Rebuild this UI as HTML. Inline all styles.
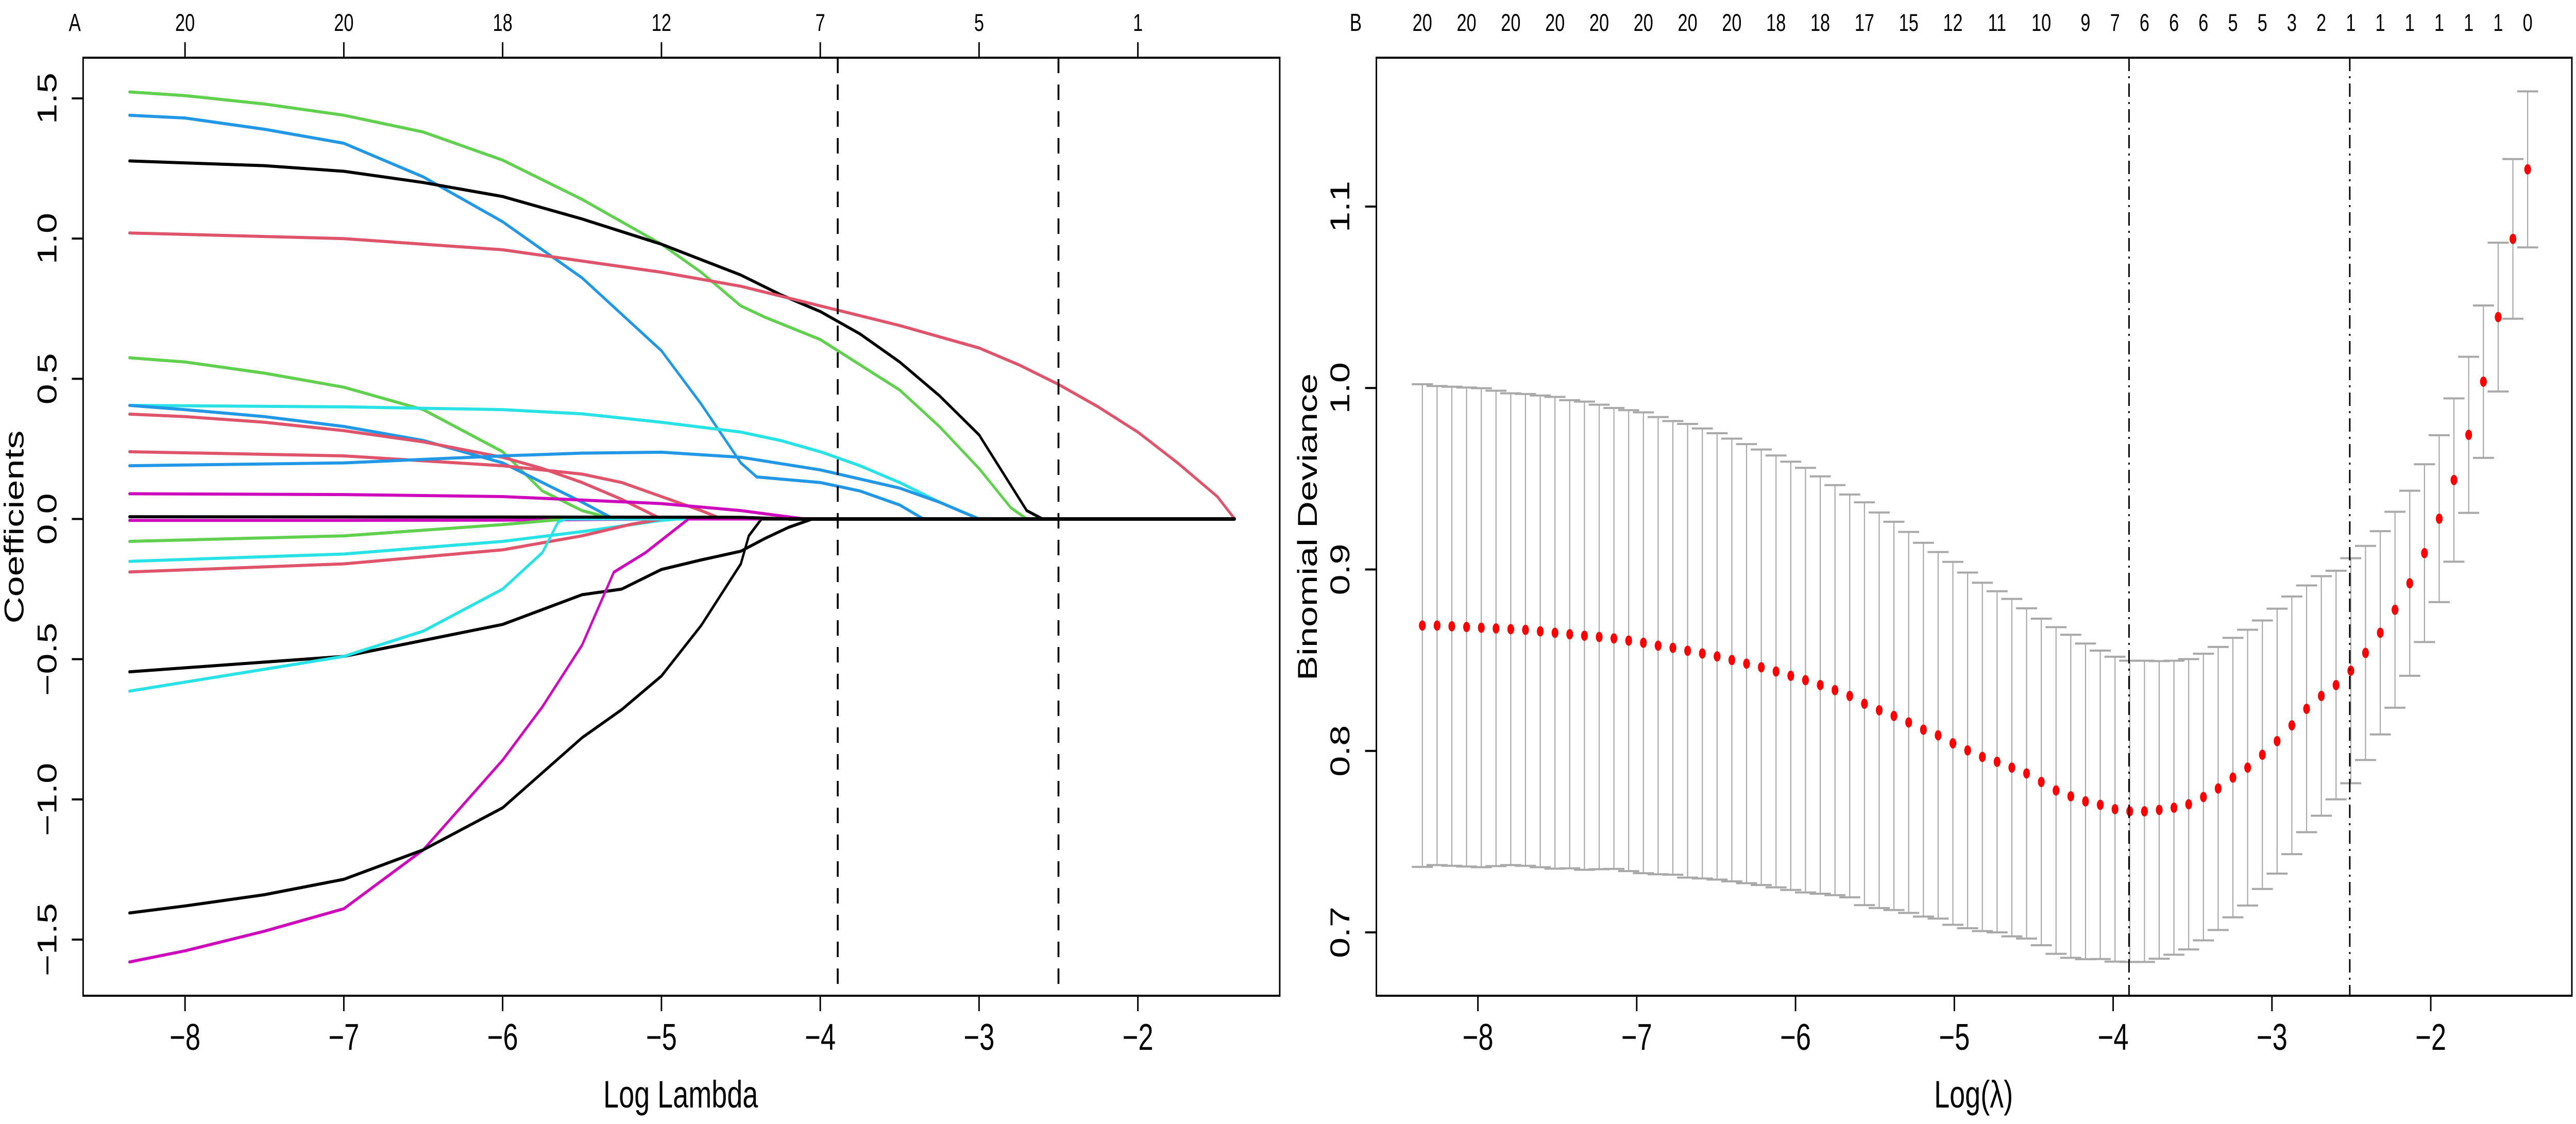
<!DOCTYPE html>
<html><head><meta charset="utf-8"><title>LASSO coefficient paths and CV deviance</title>
<style>html,body{margin:0;padding:0;background:#fff;overflow:hidden;width:100%;height:100%}svg{display:block;width:100vw;height:100vh}text{font-family:"Liberation Sans",sans-serif}</style>
</head><body>
<svg id="fig" xmlns="http://www.w3.org/2000/svg" viewBox="0 0 6850 2182" preserveAspectRatio="none">
<rect x="0" y="0" width="6850" height="2182" fill="#fff"/>
<g id="pA"></g>
<g id="pB"></g>
<text x="199" y="60" font-size="48" text-anchor="middle">A</text>
<text x="3605" y="60" font-size="48" text-anchor="middle">B</text>
<text x="1810" y="2150" font-size="74" text-anchor="middle">Log Lambda</text>
<text x="0" y="0" font-size="72" text-anchor="middle" transform="translate(62,1023) rotate(-90)">Coefficients</text>
<text x="5248" y="2150" font-size="74" text-anchor="middle">Log(λ)</text>
<text x="0" y="0" font-size="72" text-anchor="middle" transform="translate(3502,1023) rotate(-90)">Binomial Deviance</text>
</svg>
<script>
// ---------- Panel A data ----------
const aXTicks = [-8,-7,-6,-5,-4,-3,-2];
const aTopLabels = ["20","20","18","12","7","5","1"];
const aYTicks = [-1.5,-1.0,-0.5,0.0,0.5,1.0,1.5];
const aYTickLabels = ["-1.5","-1.0","-0.5","0.0","0.5","1.0","1.5"];
const aVlines = [-3.89,-2.50];
const lamStart = -8.35, lamEnd = -1.39;
const s1L=[-8.35,-8,-7.5,-7,-6.5,-6,-5.5,-5,-4.75,-4.5,-4.35,-4,-3.5,-3.25,-3,-2.8,-2.7];
const s1V=[1.523,1.51,1.48,1.44,1.38,1.28,1.14,0.98,0.88,0.76,0.72,0.64,0.46,0.33,0.18,0.04,0];
const s2L=[-8.35,-8,-7.5,-7,-6.5,-6,-5.5,-5.25,-5,-4.75,-4.5,-4.4,-4,-3.75,-3.5,-3.35];
const s2V=[1.44,1.43,1.39,1.34,1.22,1.06,0.86,0.73,0.6,0.41,0.2,0.15,0.13,0.10,0.05,0];
const s3L=[-8.35,-8,-7.5,-7,-6.5,-6,-5.5,-5,-4.5,-4.25,-4,-3.75,-3.5,-3.25,-3,-2.8,-2.7,-2.6];
const s3V=[1.277,1.27,1.26,1.24,1.20,1.15,1.07,0.98,0.87,0.80,0.74,0.66,0.56,0.44,0.30,0.12,0.03,0];
const s4L=[-8.35,-8,-7,-6,-5.5,-5,-4.5,-4,-3.5,-3,-2.75,-2.5,-2.25,-2,-1.75,-1.5,-1.39];
const s4V=[1.02,1.015,1.0,0.96,0.92,0.88,0.83,0.76,0.69,0.61,0.55,0.48,0.40,0.31,0.20,0.08,0];
const s5L=[-8.35,-8,-7.5,-7,-6.5,-6,-5.75,-5.5,-5.3];
const s5V=[0.575,0.56,0.52,0.47,0.39,0.24,0.10,0.03,0];
const s6L=[-8.35,-7,-6,-5.5,-5,-4.5,-4.25,-4,-3.75,-3.5,-3.25,-3];
const s6V=[0.405,0.40,0.39,0.375,0.345,0.31,0.28,0.24,0.19,0.13,0.06,0];
const s7L=[-8.35,-8,-7.5,-7,-6.5,-6,-5.75,-5.5,-5.3];
const s7V=[0.405,0.39,0.365,0.33,0.28,0.20,0.13,0.06,0];
const s8L=[-8.35,-8,-7.5,-7,-6.5,-6,-5.75,-5.5,-5.25,-5];
const s8V=[0.374,0.365,0.345,0.315,0.275,0.22,0.18,0.13,0.07,0];
const s9L=[-8.35,-7,-6,-5.5,-5.25,-5,-4.75,-4.62];
const s9V=[0.24,0.225,0.19,0.16,0.13,0.08,0.03,0];
const s10L=[-8.35,-7,-6,-5.5,-5,-4.5,-4,-3.5,-3.25,-3];
const s10V=[0.19,0.20,0.225,0.235,0.238,0.22,0.175,0.11,0.06,0];
const s11L=[-8.35,-7,-6,-5,-4.5,-4.1];
const s11V=[0.09,0.087,0.08,0.055,0.03,0];
const s12L=[-8.35,-7,-6,-5.5,-5];
const s12V=[-0.005,-0.005,-0.004,-0.002,0];
const s13L=[-8.35,-7,-6.5,-6,-5.6];
const s13V=[-0.08,-0.06,-0.04,-0.02,0];
const s14L=[-8.35,-7,-6,-5.5,-5,-4.9];
const s14V=[-0.151,-0.125,-0.08,-0.045,-0.005,0];
const s15L=[-8.35,-7,-6,-5.5,-5.2,-5];
const s15V=[-0.189,-0.16,-0.11,-0.06,-0.02,0];
const s16L=[-8.35,-7,-6,-5.5,-5.25,-5,-4.75,-4.5,-4.35,-4.2,-4.05];
const s16V=[-0.545,-0.49,-0.376,-0.27,-0.25,-0.18,-0.146,-0.115,-0.07,-0.03,0];
const s17L=[-8.35,-7,-6.5,-6,-5.75,-5.65,-5.6];
const s17V=[-0.614,-0.49,-0.40,-0.25,-0.12,-0.01,0];
const s18L=[-8.35,-8,-7.5,-7,-6.5,-6,-5.75,-5.5,-5.3,-5.1,-4.83];
const s18V=[-1.58,-1.54,-1.47,-1.39,-1.18,-0.86,-0.67,-0.45,-0.19,-0.12,0];
const s19L=[-8.35,-8,-7.5,-7,-6.5,-6,-5.5,-5.25,-5,-4.75,-4.5,-4.45,-4.37];
const s19V=[-1.405,-1.38,-1.34,-1.285,-1.18,-1.03,-0.78,-0.68,-0.56,-0.38,-0.16,-0.06,0];
const s20L=[-8.35,-4.5,-4.2];
const s20V=[0.008,0.006,0];
const seriesL=[s1L,s2L,s3L,s4L,s5L,s6L,s7L,s8L,s9L,s10L,s11L,s12L,s13L,s14L,s15L,s16L,s17L,s18L,s19L,s20L];
const seriesV=[s1V,s2V,s3V,s4V,s5V,s6V,s7V,s8V,s9V,s10V,s11V,s12V,s13V,s14V,s15V,s16V,s17V,s18V,s19V,s20V];
const seriesC=["#61D04F","#2297E6","#000000","#DF536B","#61D04F","#28E2E5","#2297E6","#DF536B","#DF536B","#2297E6","#CD0BBC","#CD0BBC","#61D04F","#28E2E5","#DF536B","#000000","#28E2E5","#CD0BBC","#000000","#000000"];

// ---------- Panel B data ----------
const bXTicks = [-8,-7,-6,-5,-4,-3,-2];
const bYTicks = [0.7,0.8,0.9,1.0,1.1];
const bYTickLabels = ["0.7","0.8","0.9","1.0","1.1"];
const bVlines = [-3.90,-2.51];
const bMean = [0.8691,0.8691,0.8687,0.8683,0.8679,0.8675,0.8671,0.8667,0.8659,0.8651,0.8643,0.8635,0.8628,0.8620,0.8608,0.8596,0.8580,0.8568,0.8552,0.8537,0.8521,0.8501,0.8481,0.8461,0.8438,0.8414,0.8390,0.8363,0.8335,0.8303,0.8260,0.8224,0.8193,0.8157,0.8117,0.8086,0.8042,0.8003,0.7967,0.7940,0.7908,0.7876,0.7829,0.7782,0.7750,0.7722,0.7703,0.7679,0.7667,0.7667,0.7675,0.7687,0.7706,0.7746,0.7793,0.7853,0.7908,0.7979,0.8054,0.8141,0.8232,0.8303,0.8363,0.8442,0.8540,0.8651,0.8778,0.8924,0.9090,0.9280,0.9493,0.9742,1.0035,1.0391,1.0822,1.1205];
const bSE = [0.133,0.132,0.132,0.132,0.132,0.131,0.130,0.130,0.130,0.130,0.129,0.129,0.128,0.127,0.127,0.127,0.126,0.125,0.125,0.124,0.123,0.122,0.121,0.120,0.119,0.118,0.117,0.115,0.113,0.111,0.111,0.109,0.107,0.105,0.103,0.101,0.100,0.098,0.096,0.094,0.093,0.091,0.090,0.090,0.089,0.087,0.085,0.084,0.083,0.083,0.082,0.081,0.080,0.079,0.078,0.077,0.076,0.074,0.073,0.071,0.068,0.066,0.063,0.062,0.059,0.056,0.054,0.051,0.049,0.046,0.045,0.043,0.042,0.041,0.044,0.043];
const bTopIdx = [0,3,6,9,12,15,18,21,24,27,30,33,36,39,42,45,47,49,51,53,55,57,59,61,63,65,67,69,71,73,75];
const bTopLabels = ["20","20","20","20","20","20","20","20","18","18","17","15","12","11","10","9","7","6","6","6","5","5","3","2","1","1","1","1","1","1","0"];

const NS="http://www.w3.org/2000/svg";
function mk(parent, tag, attrs, txt){const e=document.createElementNS(NS,tag);for(const k in attrs)e.setAttribute(k,attrs[k]);if(txt!==undefined)e.textContent=txt;parent.appendChild(e);return e;}

const plotTop=112, plotBot=1933;
// ---- Panel A ----
const gA=document.getElementById('pA');
const axL=221, axR=3403;
const xA=l=>492+(l+8)*422.3;
const yA=v=>1007.5-v*544.33;
seriesL.forEach((L,i)=>{
  const V=seriesV[i];
  let d=L.map((l,j)=>(j?'L':'M')+xA(l).toFixed(1)+','+yA(V[j]).toFixed(1)).join(' ');
  const last=L[L.length-1];
  if(last<lamEnd) d+=' L'+xA(lamEnd).toFixed(1)+','+yA(0).toFixed(1);
  const p=mk(gA,'path',{d:d,fill:'none',stroke:seriesC[i],'stroke-width':6,'stroke-linejoin':'round','stroke-linecap':'round'});
  
  
});
const zl=mk(gA,'line',{x1:xA(-4.2),x2:xA(lamEnd),y1:yA(0),y2:yA(0),stroke:'#000','stroke-width':7});


aVlines.forEach((l,i)=>{
  const v=mk(gA,'line',{x1:xA(l),x2:xA(l),y1:plotTop,y2:plotBot,stroke:'#000','stroke-width':5,'stroke-dasharray':'30,22'});
  
  
});
const boxA=mk(gA,'rect',{x:axL,y:plotTop,width:axR-axL,height:plotBot-plotTop,fill:'none',stroke:'#000','stroke-width':4});


aXTicks.forEach((t,i)=>{
  const x=xA(t);
  const tk=mk(gA,'line',{x1:x,x2:x,y1:plotBot,y2:plotBot+30,stroke:'#000','stroke-width':4});
  
  
  const lb=mk(gA,'text',{x:x,y:2038,'font-size':72,'text-anchor':'middle'},String(t).replace('-','\u2212'));
  
  
  const tt=mk(gA,'line',{x1:x,x2:x,y1:plotTop,y2:plotTop-30,stroke:'#000','stroke-width':4});
  
  
  const tl=mk(gA,'text',{x:x,y:60,'font-size':47,'text-anchor':'middle'},aTopLabels[i]);
  
  
});
aYTicks.forEach((t,i)=>{
  const y=yA(t);
  const tk=mk(gA,'line',{x1:axL,x2:axL-30,y1:y,y2:y,stroke:'#000','stroke-width':4});
  
  
  const lb=mk(gA,'text',{x:0,y:0,'font-size':72,'text-anchor':'middle',transform:'translate(150,'+y+') rotate(-90)'},aYTickLabels[i].replace('-','\u2212'));
  
  
});
// ---- Panel B ----
const gB=document.getElementById('pB');
const bxL=3660, bxR=6839;
const xB=l=>3930+(l+8)*422.3;
const yB=v=>1810-(v-0.7)*3522.5;
const nPts=bMean.length, step=(lamEnd-lamStart)/(nPts-1);
bMean.forEach((m,i)=>{
  const x=xB(lamStart+i*step), up=yB(m+bSE[i]), lo=yB(m-bSE[i]);
  const g=mk(gB,'g',{});
  
  
  mk(g,'line',{x1:x,x2:x,y1:up,y2:lo,stroke:'#A9A9A9','stroke-width':3});
  mk(g,'line',{x1:x-28,x2:x+28,y1:up,y2:up,stroke:'#A9A9A9','stroke-width':4});
  mk(g,'line',{x1:x-28,x2:x+28,y1:lo,y2:lo,stroke:'#A9A9A9','stroke-width':4});
  mk(g,'ellipse',{cx:x,cy:yB(m),rx:9,ry:10,fill:'#FF0000'});
});
bVlines.forEach((l,i)=>{
  const v=mk(gB,'line',{x1:xB(l),x2:xB(l),y1:plotTop,y2:plotBot,stroke:'#000','stroke-width':4,'stroke-dasharray':'26,10,4,10'});
  
  
});
const boxB=mk(gB,'rect',{x:bxL,y:plotTop,width:bxR-bxL,height:plotBot-plotTop,fill:'none',stroke:'#000','stroke-width':4});


bXTicks.forEach(t=>{
  const x=xB(t);
  const tk=mk(gB,'line',{x1:x,x2:x,y1:plotBot,y2:plotBot+30,stroke:'#000','stroke-width':4});
  
  
  const lb=mk(gB,'text',{x:x,y:2038,'font-size':72,'text-anchor':'middle'},String(t).replace('-','\u2212'));
  
  
});
bYTicks.forEach((t,i)=>{
  const y=yB(t);
  const tk=mk(gB,'line',{x1:bxL,x2:bxL-30,y1:y,y2:y,stroke:'#000','stroke-width':4});
  
  
  const lb=mk(gB,'text',{x:0,y:0,'font-size':72,'text-anchor':'middle',transform:'translate(3588,'+y+') rotate(-90)'},bYTickLabels[i]);
  
  
});
bTopIdx.forEach((k,i)=>{
  const lb=mk(gB,'text',{x:xB(lamStart+k*step),y:60,'font-size':47,'text-anchor':'middle'},bTopLabels[i]);
  
  
});
</script>
</body></html>
